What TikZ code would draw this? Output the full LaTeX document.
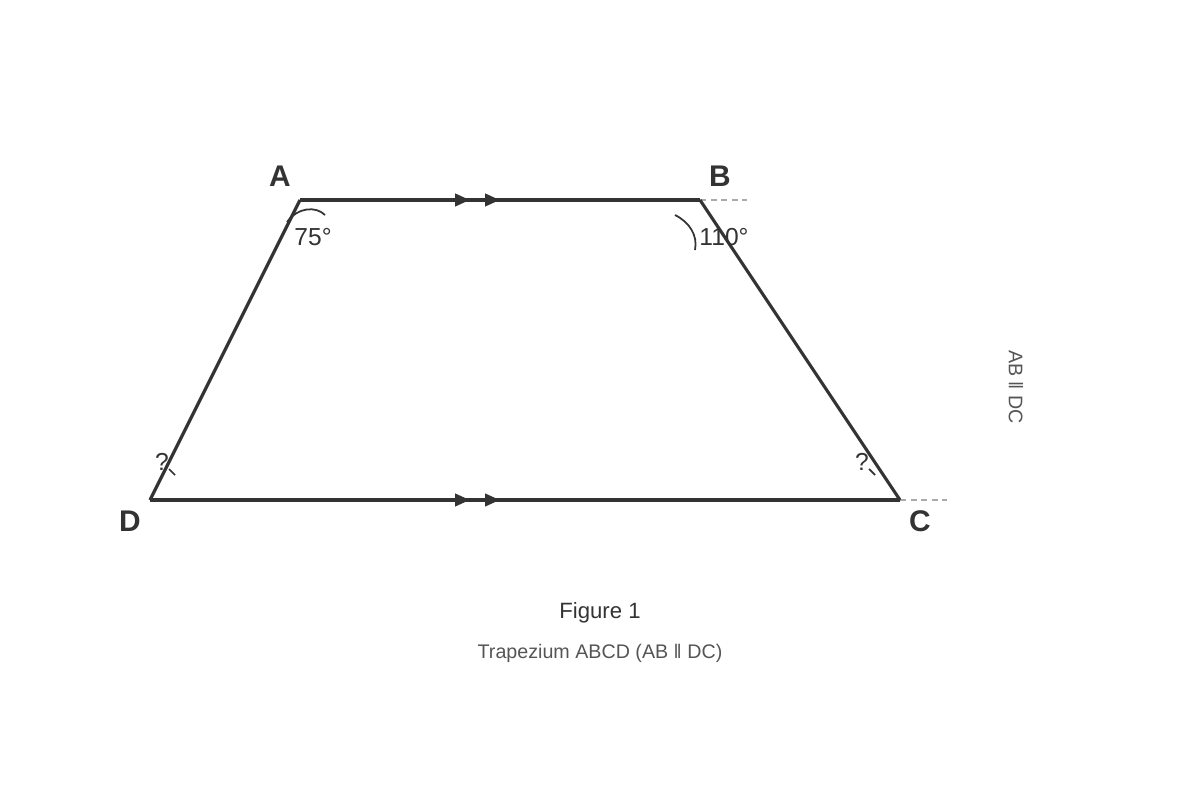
\documentclass[tikz,border=0pt]{standalone}
\usepackage{fontspec}
\setmainfont{Liberation Sans}
\usetikzlibrary{arrows.meta,decorations.markings}

\definecolor{ink}{HTML}{333333}
\definecolor{soft}{HTML}{555555}
\definecolor{dashgray}{HTML}{AAAAAA}

\tikzset{
  side/.style={draw=ink, line width=1.8pt},
  vertex/.style={font=\fontsize{17}{20}\selectfont\bfseries, text=ink},
  anglelabel/.style={font=\fontsize{14}{17}\selectfont, text=ink},
  anglemark/.style={draw=ink, line width=1pt},
  extension/.style={draw=dashgray, line width=0.8pt, dash pattern=on 3.4pt off 2.6pt},
  parallelmarks/.style 2 args={postaction={decorate, decoration={markings,
      mark=at position #1 with {\arrow{Triangle[length=8.5pt,width=7pt]}},
      mark=at position #2 with {\arrow{Triangle[length=8.5pt,width=7pt]}}}}}
}

\begin{document}
\begin{tikzpicture}[x=0.02cm, y=-0.02cm]

\useasboundingbox (0,0) rectangle (1200,800);

\coordinate (A) at (300,200);
\coordinate (B) at (700,200);
\coordinate (C) at (900,500);
\coordinate (D) at (150,500);

% dashed extensions
\draw[extension] (B) -- ++(47,0) coordinate (Bext);
\draw[extension] (C) -- ++(47,0) coordinate (Cext);

% sides
\draw[side, parallelmarks={3.4cm}{4cm}] (A) -- (B);
\draw[side, parallelmarks={6.4cm}{7cm}] (D) -- (C);
\draw[side, line join=round] (D) -- (A);
\draw[side, line join=round] (B) -- (C);

% angle marks
\draw[anglemark] (287,222) .. controls (298,207) and (316,206) .. (325,215);
\draw[anglemark] (675,215) .. controls (689,222) and (698,235) .. (695,250);
\draw[anglemark] (169,469) -- (175,475);
\draw[anglemark] (869,469) -- (875,475);

\foreach \v/\pos in {A/{(280,176)}, B/{(720,176)}, C/{(920,521)}, D/{(130,521)}}
    \node[vertex] (label\v) at \pos {\v};

\node[anglelabel] (angA) at (313,237) {75°};
\node[anglelabel] (angB) at (724,237) {110°};
\node[anglelabel] (angD) at (162,462) {?};
\node[anglelabel] (angC) at (862,462) {?};

\node[font=\fontsize{12.6}{15}\selectfont, text=ink] (caption) at (600,613) {Figure 1};
\node[font=\fontsize{11.2}{14}\selectfont, text=soft] (subcaption) at (600,653) {Trapezium ABCD (AB ‖ DC)};
\node[font=\fontsize{11.2}{14}\selectfont, text=soft, rotate=-90] (note) at (1016,387) {AB ‖ DC};

\end{tikzpicture}
\end{document}
